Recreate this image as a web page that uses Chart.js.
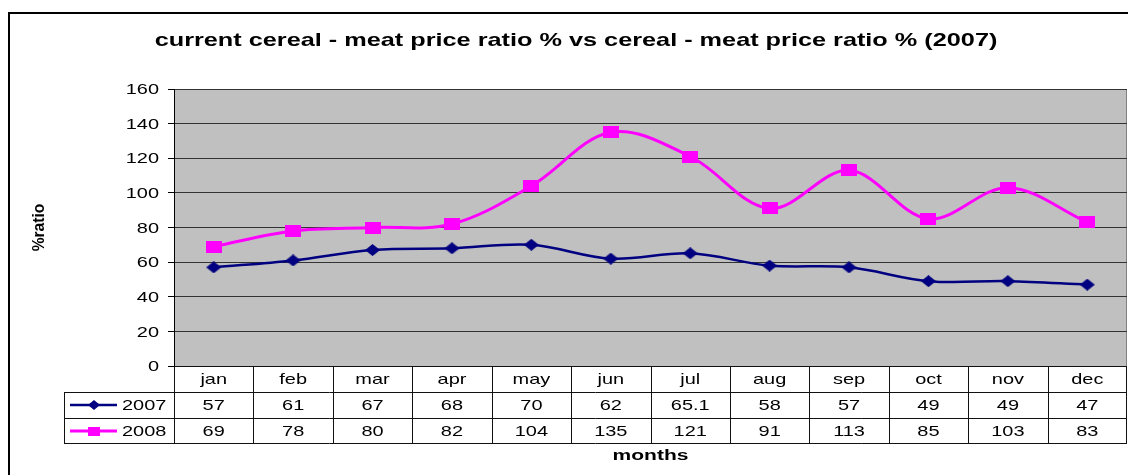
<!DOCTYPE html>
<html>
<head>
<meta charset="utf-8">
<script src="https://cdn.jsdelivr.net/npm/chart.js@4.4.0/dist/chart.umd.min.js"></script>
<style>
  html, body { margin: 0; padding: 0; background: #fff; overflow: hidden; }
  canvas { display: block; }
</style>
</head>
<body>
<canvas id="ratioChart" width="1128" height="475"></canvas>
<script>
// chart data
const months = ['jan', 'feb', 'mar', 'apr', 'may', 'jun', 'jul', 'aug', 'sep', 'oct', 'nov', 'dec'];
const ratio2007 = [57, 61, 67, 68, 70, 62, 65.1, 58, 57, 49, 49, 47];
const ratio2008 = [69, 78, 80, 82, 104, 135, 121, 91, 113, 85, 103, 83];
const seriesNames = ['2007', '2008'];
const yMin = 0, yMax = 160, yStep = 20;
const chartTitle = 'current cereal - meat price ratio % vs cereal - meat price ratio % (2007)';
const yTitle = '%ratio';
const xTitle = 'months';

const FONT = 'Liberation Sans, Arial, sans-serif';
Chart.defaults.font.family = FONT;
Chart.defaults.color = '#000';

// the original picture is stretched sideways, so text is drawn wider too
const SX = 1.33;

function wideText(ctx, text, x, y, font, sx, align) {
    ctx.save();
    ctx.font = font;
    ctx.textAlign = align || 'center';
    ctx.textBaseline = 'middle';
    ctx.translate(x, y);
    ctx.scale(sx, 1);
    ctx.fillText(text, 0, 0);
    ctx.restore();
}

// excel-like markers (a bit wider than tall)
function makeMarker(shape, w, h, color) {
    const c = document.createElement('canvas');
    c.width = w;
    c.height = h;
    const g = c.getContext('2d');
    g.fillStyle = color;
    if (shape === 'diamond') {
        g.beginPath();
        g.moveTo(w / 2, 0);
        g.lineTo(w, h / 2);
        g.lineTo(w / 2, h);
        g.lineTo(0, h / 2);
        g.closePath();
        g.fill();
    } else {
        g.fillRect(0, 0, w, h);
    }
    return c;
}

const navy = '#000080';
const magenta = '#FF00FF';
const diamond = makeMarker('diamond', 15, 12, navy);
const square = makeMarker('square', 16, 12, magenta);
const smallDiamond = makeMarker('diamond', 12, 10, navy);
const smallSquare = makeMarker('square', 12, 9, magenta);

const frameAndTable = {
    id: 'frameAndTable',
    beforeDraw(chart) {
        const { ctx, chartArea: a } = chart;
        ctx.save();
        // outer frame
        ctx.strokeStyle = '#000';
        ctx.lineWidth = 2;
        ctx.strokeRect(9, 13, chart.width + 20, chart.height + 20);
        // plot background
        ctx.fillStyle = '#C0C0C0';
        ctx.fillRect(a.left, a.top, a.right - a.left, a.bottom - a.top);
        ctx.strokeStyle = '#808080';
        ctx.lineWidth = 1;
        ctx.strokeRect(a.left + 0.5, a.top + 0.5, a.right - a.left - 1, a.bottom - a.top);
        ctx.restore();
    },
    afterDraw(chart) {
        const { ctx, chartArea: a, scales: { x, y } } = chart;
        const step = (a.right - a.left) / months.length;
        const rowH = 26;
        const top = Math.round(a.bottom);
        const legLeft = a.left - 110;
        const rows = [top, top + rowH, top + rowH * 2, top + rowH * 3 - 1];
        const f15 = '15px ' + FONT;

        ctx.save();
        // title
        wideText(ctx, chartTitle, 576, 41, 'bold 19px ' + FONT, SX);

        // y tick labels
        y.ticks.forEach(t => {
            wideText(ctx, String(t.value), a.left - 15, y.getPixelForValue(t.value) + 1, f15, SX, 'right');
        });

        // y title, rotated
        ctx.save();
        ctx.translate(39, (a.top + a.bottom) / 2);
        ctx.rotate(-Math.PI / 2);
        ctx.scale(1.2, SX);
        ctx.font = 'bold 13px ' + FONT;
        ctx.textAlign = 'center';
        ctx.textBaseline = 'middle';
        ctx.fillText(yTitle, 0, 0);
        ctx.restore();

        // table grid
        ctx.strokeStyle = '#111';
        ctx.lineWidth = 1;
        ctx.beginPath();
        ctx.moveTo(a.left, rows[0] + 0.5); ctx.lineTo(a.right, rows[0] + 0.5);
        for (let r = 1; r < rows.length; r++) {
            ctx.moveTo(legLeft, rows[r] + 0.5);
            ctx.lineTo(a.right, rows[r] + 0.5);
        }
        ctx.moveTo(legLeft + 0.5, rows[1]); ctx.lineTo(legLeft + 0.5, rows[3] + 1);
        for (let i = 0; i <= months.length; i++) {
            const px = Math.min(Math.round(a.left + i * step), Math.round(a.right) - 1) + 0.5;
            ctx.moveTo(px, rows[0]);
            ctx.lineTo(px, rows[3] + 1);
        }
        ctx.stroke();

        ctx.fillStyle = '#000';
        months.forEach((m, i) => {
            const cx = x.getPixelForValue(i);
            wideText(ctx, m, cx, rows[0] + rowH / 2 + 1, f15, SX);
            wideText(ctx, String(ratio2007[i]), cx, rows[1] + rowH / 2 + 1, f15, SX);
            wideText(ctx, String(ratio2008[i]), cx, rows[2] + rowH / 2 + 1, f15, SX);
        });

        // legend keys inside the table
        const keys = [[navy, 2.5, smallDiamond], [magenta, 3, smallSquare]];
        keys.forEach(([col, lw, mk], r) => {
            const cy = rows[r + 1] + rowH / 2;
            ctx.strokeStyle = col;
            ctx.lineWidth = lw;
            ctx.beginPath();
            ctx.moveTo(legLeft + 6, cy);
            ctx.lineTo(legLeft + 53, cy);
            ctx.stroke();
            ctx.drawImage(mk, legLeft + 30 - mk.width / 2, cy - mk.height / 2);
            wideText(ctx, seriesNames[r], legLeft + 58, cy + 1, f15, SX, 'left');
        });

        // x axis title
        wideText(ctx, xTitle, (a.left + a.right) / 2, 456, 'bold 14px ' + FONT, 1.5);
        ctx.restore();
    }
};

new Chart(document.getElementById('ratioChart').getContext('2d'), {
    type: 'line',
    data: {
        labels: months,
        datasets: [{
            label: seriesNames[0],
            data: ratio2007,
            borderColor: navy,
            borderWidth: 2.5,
            pointStyle: diamond,
            tension: 0.35
        }, {
            label: seriesNames[1],
            data: ratio2008,
            borderColor: magenta,
            borderWidth: 3,
            pointStyle: square,
            tension: 0.35
        }]
    },
    options: {
        responsive: false,
        animation: false,
        layout: {
            autoPadding: false,
            padding: { left: 24, right: 1, top: 89, bottom: 109 }
        },
        plugins: {
            legend: { display: false },
            tooltip: { enabled: false },
            title: { display: false }
        },
        scales: {
            x: {
                display: false,
                offset: true
            },
            y: {
                min: yMin,
                max: yMax,
                afterFit: (scale) => { scale.width = 150; },
                ticks: {
                    stepSize: yStep,
                    display: false
                },
                grid: {
                    color: '#333',
                    tickColor: '#000',
                    tickLength: 6
                },
                border: { color: '#000', width: 1 }
            }
        }
    },
    plugins: [frameAndTable]
});
</script>
</body>
</html>
